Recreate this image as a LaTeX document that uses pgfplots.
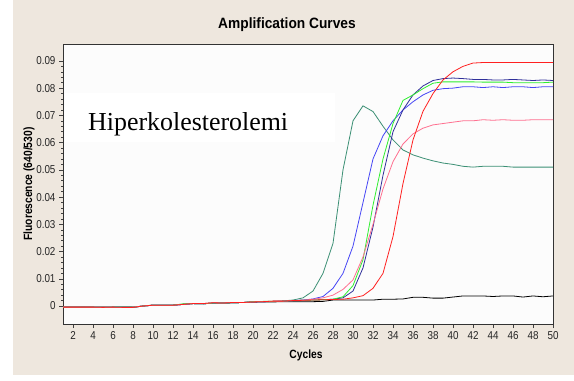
\documentclass[border=0pt]{standalone}
\usepackage{pgfplots}
\pgfplotsset{compat=1.18}
\usepackage{fontspec}
\setmainfont{Liberation Sans}
\newfontfamily\narrowfont[FakeStretch=0.86]{Liberation Sans}
\newfontfamily\titlefont[FakeStretch=0.92]{Liberation Sans}
\newfontfamily\serifbig{Liberation Serif}

\definecolor{panelbg}{HTML}{EEE7DE}
\definecolor{cteal}{HTML}{3B8F74}
\definecolor{cblue}{HTML}{4646F5}
\definecolor{cnavy}{HTML}{30309A}
\definecolor{cgreen}{HTML}{2EEE2E}
\definecolor{cpink}{HTML}{FF7090}
\definecolor{cred}{HTML}{FF2020}

\begin{document}
\begin{tikzpicture}[x=1bp,y=1bp]
  \path[use as bounding box] (0,0) rectangle (574,380);
  \fill[white] (0,0) rectangle (574,380);
  \fill[panelbg] (13,5) rectangle (574,380);

  \begin{axis}[
    at={(63bp,56bp)}, anchor=south west,
    scale only axis, width=490bp, height=280bp,
    xmin=1, xmax=50, ymin=-0.0066, ymax=0.0962,
    axis background/.style={fill=white!99!black},
    xtick={2,4,...,50},
    ytick={0,0.01,0.02,0.03,0.04,0.05,0.06,0.07,0.08,0.09},
    yticklabels={0,0.01,0.02,0.03,0.04,0.05,0.06,0.07,0.08,0.09},
    minor y tick num=4,
    tick align=outside, xtick pos=bottom, ytick pos=left,
    major tick length=4bp, minor tick length=2bp,
    tick style={black!75, line width=0.5bp},
    axis line style={black!80, line width=0.9bp},
    /pgf/number format/assume math mode=true,
    ticklabel style={font=\narrowfont\fontsize{11.5}{12}\selectfont, text=black!85},
    scaled y ticks=false,
    clip=true,
  ]
    % black: no amplification
    \addplot[black, line width=0.8bp, sharp plot] coordinates {
      (1,-0.0004)(2,-0.0004)(3,-0.0004)(4,-0.0004)(5,-0.0005)(6,-0.0004)(7,-0.0005)(8,-0.0005)
      (9,0.0)(10,0.0003)(11,0.0003)(12,0.0003)(13,0.0006)(14,0.0009)(15,0.0008)(16,0.0011)
      (17,0.0011)(18,0.0012)(19,0.0013)(20,0.0014)(21,0.0015)(22,0.0015)(23,0.0016)(24,0.0016)
      (25,0.0016)(26,0.0016)(27,0.0017)(28,0.0022)(29,0.0022)(30,0.0022)(31,0.0022)(32,0.0022)
      (33,0.0025)(34,0.0025)(35,0.0026)(36,0.0032)(37,0.0032)(38,0.0029)(39,0.0029)(40,0.0033)
      (41,0.0037)(42,0.0037)(43,0.0037)(44,0.0035)(45,0.0037)(46,0.0037)(47,0.0033)(48,0.0037)
      (49,0.0034)(50,0.0037)};
    % teal
    \addplot[cteal, line width=0.8bp, sharp plot] coordinates {
      (1,-0.0004)(2,-0.0004)(3,-0.0003)(4,-0.0004)(5,-0.0004)(6,-0.0004)(7,-0.0004)(8,-0.0004)
      (9,0.0)(10,0.0004)(11,0.0004)(12,0.0004)(13,0.0007)(14,0.0009)(15,0.0009)(16,0.0011)
      (17,0.0011)(18,0.0012)(19,0.0013)(20,0.0015)(21,0.0016)(22,0.0017)(23,0.0019)(24,0.0022)
      (25,0.003)(26,0.0055)(27,0.012)(28,0.023)(29,0.050)(30,0.068)(31,0.0735)(32,0.0714)
      (33,0.066)(34,0.061)(35,0.0573)(36,0.0555)(37,0.0543)(38,0.0533)(39,0.0525)(40,0.052)
      (41,0.0513)(42,0.051)(43,0.0513)(44,0.0513)(45,0.0513)(46,0.051)(47,0.051)(48,0.051)
      (49,0.051)(50,0.051)};
    % blue
    \addplot[cblue, line width=0.8bp, sharp plot] coordinates {
      (1,-0.0004)(2,-0.0004)(3,-0.0004)(4,-0.0004)(5,-0.0004)(6,-0.0004)(7,-0.0004)(8,-0.0004)
      (9,0.0)(10,0.0003)(11,0.0003)(12,0.0003)(13,0.0006)(14,0.0009)(15,0.0008)(16,0.0011)
      (17,0.0011)(18,0.0012)(19,0.0013)(20,0.0016)(21,0.0016)(22,0.0017)(23,0.0018)(24,0.002)
      (25,0.0022)(26,0.0026)(27,0.0035)(28,0.0065)(29,0.012)(30,0.022)(31,0.038)(32,0.054)
      (33,0.0625)(34,0.068)(35,0.072)(36,0.075)(37,0.0775)(38,0.0792)(39,0.0798)(40,0.080)
      (41,0.0805)(42,0.0805)(43,0.0802)(44,0.0805)(45,0.0802)(46,0.0805)(47,0.0805)(48,0.0802)
      (49,0.0805)(50,0.0805)};
    % navy
    \addplot[cnavy, line width=0.8bp, sharp plot] coordinates {
      (1,-0.0004)(2,-0.0004)(3,-0.0004)(4,-0.0004)(5,-0.0004)(6,-0.0004)(7,-0.0004)(8,-0.0004)
      (9,0.0)(10,0.0003)(11,0.0003)(12,0.0003)(13,0.0006)(14,0.0009)(15,0.0008)(16,0.0011)
      (17,0.0011)(18,0.0012)(19,0.0013)(20,0.0015)(21,0.0016)(22,0.0017)(23,0.0018)(24,0.002)
      (25,0.0021)(26,0.0022)(27,0.0023)(28,0.0025)(29,0.003)(30,0.0055)(31,0.014)(32,0.029)
      (33,0.048)(34,0.064)(35,0.072)(36,0.0775)(37,0.0808)(38,0.0828)(39,0.0835)(40,0.0837)
      (41,0.0835)(42,0.0832)(43,0.0832)(44,0.083)(45,0.083)(46,0.0832)(47,0.083)(48,0.0828)
      (49,0.083)(50,0.0828)};
    % green
    \addplot[cgreen, line width=0.8bp, sharp plot] coordinates {
      (1,-0.0004)(2,-0.0004)(3,-0.0004)(4,-0.0004)(5,-0.0004)(6,-0.0004)(7,-0.0004)(8,-0.0004)
      (9,0.0)(10,0.0003)(11,0.0003)(12,0.0003)(13,0.0008)(14,0.0009)(15,0.0008)(16,0.0011)
      (17,0.0011)(18,0.0012)(19,0.0013)(20,0.0016)(21,0.0017)(22,0.0017)(23,0.0018)(24,0.002)
      (25,0.0021)(26,0.0022)(27,0.0023)(28,0.0025)(29,0.0034)(30,0.0075)(31,0.017)(32,0.037)
      (33,0.054)(34,0.067)(35,0.0755)(36,0.0775)(37,0.0798)(38,0.0818)(39,0.0823)(40,0.0823)
      (41,0.0823)(42,0.0823)(43,0.0822)(44,0.0822)(45,0.0822)(46,0.082)(47,0.082)(48,0.082)
      (49,0.082)(50,0.0822)};
    % pink
    \addplot[cpink, line width=0.8bp, sharp plot] coordinates {
      (1,-0.0004)(2,-0.0004)(3,-0.0004)(4,-0.0004)(5,-0.0004)(6,-0.0004)(7,-0.0005)(8,-0.0004)
      (9,0.0)(10,0.0003)(11,0.0003)(12,0.0003)(13,0.0006)(14,0.0009)(15,0.0009)(16,0.0012)
      (17,0.0011)(18,0.0013)(19,0.0013)(20,0.0015)(21,0.0016)(22,0.0018)(23,0.0018)(24,0.002)
      (25,0.0021)(26,0.0025)(27,0.003)(28,0.004)(29,0.0061)(30,0.0096)(31,0.018)(32,0.030)
      (33,0.043)(34,0.053)(35,0.0595)(36,0.0632)(37,0.0653)(38,0.0665)(39,0.067)(40,0.0675)
      (41,0.068)(42,0.068)(43,0.0684)(44,0.0682)(45,0.0684)(46,0.0682)(47,0.0682)(48,0.0684)
      (49,0.0684)(50,0.0684)};
    % red
    \addplot[cred, line width=0.8bp, sharp plot] coordinates {
      (1,-0.0004)(2,-0.0004)(3,-0.0004)(4,-0.0004)(5,-0.0005)(6,-0.0004)(7,-0.0005)(8,-0.0005)
      (9,0.0)(10,0.0003)(11,0.0003)(12,0.0003)(13,0.0006)(14,0.0009)(15,0.0009)(16,0.0012)
      (17,0.0011)(18,0.0013)(19,0.0013)(20,0.0015)(21,0.0016)(22,0.0018)(23,0.0018)(24,0.002)
      (25,0.0021)(26,0.0022)(27,0.0023)(28,0.0024)(29,0.0025)(30,0.003)(31,0.0038)(32,0.0065)
      (33,0.012)(34,0.0255)(35,0.045)(36,0.061)(37,0.0715)(38,0.078)(39,0.083)(40,0.086)
      (41,0.088)(42,0.0892)(43,0.0894)(44,0.0894)(45,0.0894)(46,0.0894)(47,0.0894)(48,0.0894)
      (49,0.0894)(50,0.0894)};
  \end{axis}

  % label box over the plot area
  \fill[white] (65,238) rectangle (335,287);
  \node[anchor=base west, inner sep=0pt, font=\serifbig\fontsize{26}{28}\selectfont]
    at (88,250) {Hiperkolesterolemi};

  % titles
  \node[font=\titlefont\bfseries\fontsize{15}{16}\selectfont] at (287,355) {Amplification Curves};
  \node[font=\narrowfont\bfseries\fontsize{12}{13}\selectfont] at (306,25) {Cycles};
  \node[font=\narrowfont\bfseries\fontsize{12}{13}\selectfont, rotate=90] at (29,196) {Fluorescence (640/530)};
\end{tikzpicture}
\end{document}
